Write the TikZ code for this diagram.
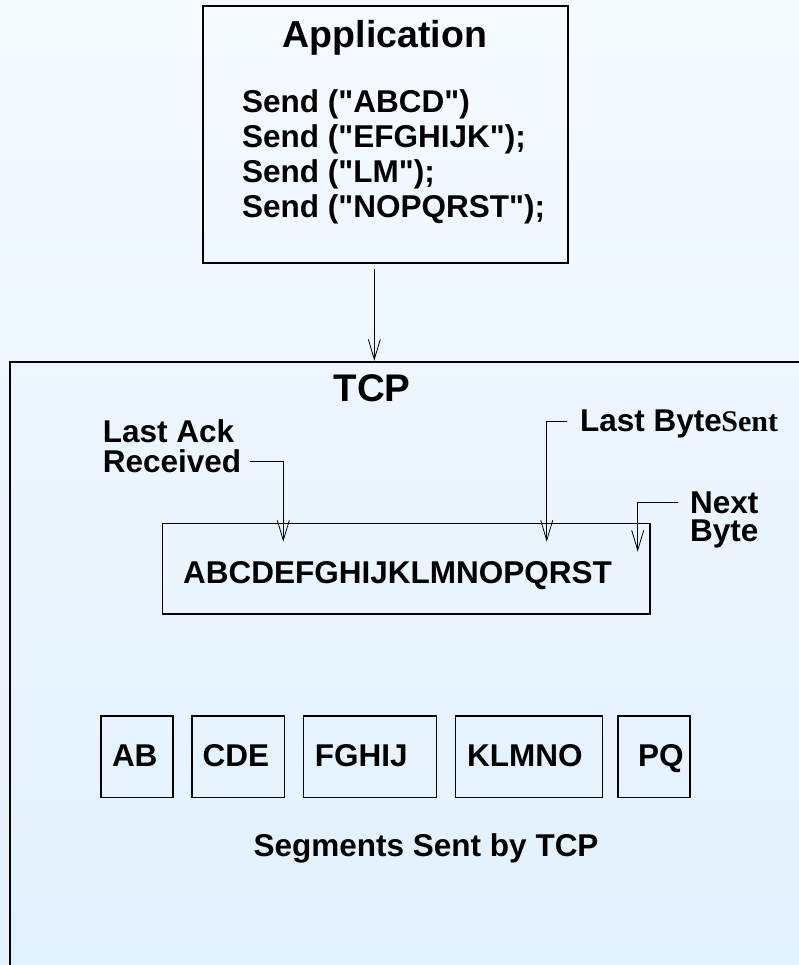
\documentclass[tikz,border=0pt]{standalone}
\usepackage{fontspec}
\setmainfont{Liberation Sans}[Ligatures=TeXOff]
\newfontfamily\serifbf{Liberation Serif}
\usetikzlibrary{arrows.meta}
\definecolor{bgtop}{RGB}{245,250,255}
\definecolor{bgbot}{RGB}{226,241,254}
\begin{document}
\begin{tikzpicture}[x=1pt,y=-1pt,
  box/.style={draw=black, line width=1.8pt, inner sep=0pt, anchor=north west},
  segbox/.style={draw=black, line width=1.5pt, inner sep=0pt, anchor=north west, minimum height=81.7pt},
  lbl/.style={font=\fontsize{31.5}{31.5}\selectfont\bfseries, inner sep=0pt, anchor=base west},
  conn/.style={line width=0.8pt, -{Straight Barb[length=20pt,width=12pt]}}]
\shade[top color=bgtop, bottom color=bgbot] (0,0) rectangle (799,965);
\useasboundingbox (0,0) rectangle (799,965);
\clip (0,0) rectangle (799,965);
% Application
\node[box, minimum width=364.4pt, minimum height=257.3pt] (app) at (202.3,5) {};
\node[font=\fontsize{37.5}{37.5}\selectfont\bfseries, inner sep=0pt, anchor=base] (apptitle) at (385,48) {Application};
\node[lbl] (s1) at (242,113) {Send ("ABCD")};
\node[lbl] (s2) at (242,148) {Send ("EFGHIJK");};
\node[lbl] (s3) at (242,183) {Send ("LM");};
\node[lbl] (s4) at (242,218) {Send ("NOPQRST");};
% TCP
\node[box, minimum width=850pt, minimum height=650pt] (tcp) at (9.3,360.7) {};
\node[font=\fontsize{38.5}{38.5}\selectfont\bfseries, inner sep=0pt, anchor=base] (tcptitle) at (372,401) {TCP};
\coordinate (a1) at (374.3,269);
\draw[conn] (a1) -- (a1 |- tcp.north);
% buffer
\node[box, line width=1.5pt, minimum width=487.3pt, minimum height=90.6pt] (buf) at (161.7,522.7) {};
\node[lbl] (buftext) at (183,583) {ABCDEFGHIJKLMNOPQRST};
% labels
\node[lbl] (lastack) at (102.7,442) {Last Ack};
\node[lbl] (recv) at (102.7,472) {Received};
\node[lbl] (lastbyte) at (580,431.7) {Last Byte};
\node[font=\fontsize{30}{30}\selectfont\serifbf\bfseries, inner sep=0pt, anchor=base west, xshift=-1pt] (sent) at (lastbyte.base east) {Sent};
\node[lbl] (next) at (690,513) {Next};
\node[lbl] (nbyte) at (690,541.7) {Byte};
\coordinate (ackstart) at (250,461.7);
\coordinate (acktip) at (283.3,541.7);
\coordinate (lbsstart) at (566.7,421.7);
\coordinate (lbstip) at (546.7,541.7);
\coordinate (nbstart) at (678.3,502.3);
\coordinate (nbtip) at (637.7,551.7);
\draw[conn] (ackstart) -| (acktip);
\draw[conn] (lbsstart) -| (lbstip);
\draw[conn] (nbstart) -| (nbtip);
% segments
\node[segbox, minimum width=71.6pt] (sab) at (100.4,715) {};
\node[segbox, minimum width=92.3pt] (scde) at (191.4,715) {};
\node[segbox, minimum width=133pt] (sfghij) at (302.9,715) {};
\node[segbox, minimum width=146.9pt] (sklmno) at (454.7,715) {};
\node[segbox, minimum width=72.4pt] (spq) at (617,715) {};
\node[lbl] (tab) at (111.8,766) {AB};
\node[lbl] (tcde) at (202.4,766) {CDE};
\node[lbl] (tfghij) at (314.7,766) {FGHIJ};
\node[lbl] (tklmno) at (467,766) {KLMNO};
\node[lbl] (tpq) at (638,766) {PQ};
\node[lbl] (segcap) at (253.5,856.7) {Segments Sent by TCP};
\end{tikzpicture}
\end{document}
